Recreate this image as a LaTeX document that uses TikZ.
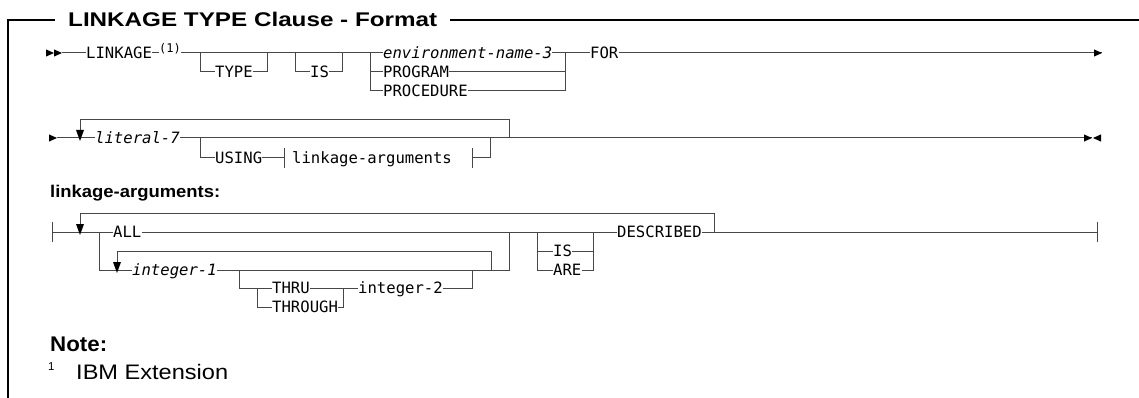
\documentclass[tikz,border=0pt]{standalone}
\usepackage{fontspec}
\usepackage{graphicx}
\newfontfamily\hsans{Liberation Sans}
\newfontfamily\dmono{DejaVu Sans Mono}
% stretch a piece of text horizontally to a given width
\newcommand\wfit[2]{\resizebox{#1}{\height}{#2}}

\tikzset{
  track/.style={draw=black!72, line width=1pt},
  frameline/.style={draw=black, line width=1.3pt},
  kw/.style={font=\dmono\fontsize{15.6}{15.6}\selectfont, anchor=west,
             inner sep=0pt, text height=11.4pt, text depth=0pt},
  var/.style={kw, font=\dmono\itshape\fontsize{15.6}{15.6}\selectfont},
  head/.style={anchor=base west, inner sep=0pt},
  rtri/.pic={\fill[black] (-8,-3.6) -- (0,0) -- (-8,3.6) -- cycle;},
  ltri/.pic={\fill[black] (8,-3.6) -- (0,0) -- (8,3.6) -- cycle;},
  dtri/.pic={\fill[black] (-4,-8) -- (4,-8) -- (0,3) -- cycle;},
  endbar/.pic={\draw[track] (0,-10) -- (0,10);},
}

\begin{document}
\begin{tikzpicture}[x=1pt,y=-1pt]
\useasboundingbox (0,0) rectangle (1139,398);

% ---- frame and title
\node[head, font=\hsans\bfseries\fontsize{19.8}{20}\selectfont] (title) at (68,26.5)
  {\wfit{369pt}{LINKAGE TYPE Clause - Format}};
\draw[frameline] (8,398) -- (8,20) -- (55,20);
\draw[frameline] (450,20) -- (1139,20);

% ---- first line: LINKAGE ... FOR
\coordinate (s1) at (62,53);
\pic at (54,53) {rtri};
\pic at (s1) {rtri};
\node[kw] (linkage) at (86,53) {LINKAGE};
\node[head, font=\dmono\fontsize{12}{12}\selectfont] (fn1) at (159,53) {(1)};
\coordinate (tL) at (200,53);
\coordinate (tR) at (267,53);
\node[kw] (type) at (215,72) {TYPE};
\coordinate (iL) at (295,53);
\coordinate (iR) at (342,53);
\node[kw] (is1) at (310,72) {IS};
\coordinate (cL) at (370,53);
\coordinate (cR) at (565,53);
\node[var] (env) at (383,53) {environment-name-3};
\node[kw] (program) at (383,72) {PROGRAM};
\node[kw] (procedure) at (383,91) {PROCEDURE};
\node[kw] (for) at (590,53) {FOR};
\coordinate (e1) at (1102,53);

\draw[track] (s1) -- (linkage.west);
\draw[track] (linkage.east) -- (fn1.base west);
\draw[track] (fn1.base east) -- (env.west);
\draw[track] (tL) |- (type.west);
\draw[track] (type.east) -| (tR);
\draw[track] (iL) |- (is1.west);
\draw[track] (is1.east) -| (iR);
\draw[track] (cL) |- (program.west);
\draw[track] (cL) |- (procedure.west);
\draw[track] (program.east) -| (cR);
\draw[track] (procedure.east) -| (cR);
\draw[track] (env.east) -- (for.west);
\draw[track] (for.east) -- (e1);
\pic at (e1) {rtri};

% ---- second line: literal-7 USING linkage-arguments
\coordinate (s2) at (57,138);
\pic at (s2) {rtri};
\coordinate (lp2L) at (80,138);
\coordinate (lp2T) at (80,120);
\coordinate (lp2R) at (509,138);
\node[var] (literal) at (95,138) {literal-7};
\coordinate (uL) at (200,138);
\node[kw] (using) at (215,158) {USING};
\coordinate (b1) at (284,158);
\node[kw] (largs) at (292,158) {linkage-arguments};
\coordinate (b2) at (472,158);
\coordinate (uR) at (490,138);
\coordinate (e2) at (1092,138);

\draw[track] (s2) -- (literal.west);
\draw[track] (literal.east) -- (e2);
\draw[track] (lp2R) |- (lp2T) -- (lp2L);
\pic at (lp2L) {dtri};
\draw[track] (uL) |- (using.west);
\draw[track] (using.east) -- (b1);
\pic at (b1) {endbar};
\pic at (b2) {endbar};
\draw[track] (b2) -| (uR);
\pic at (e2) {rtri};
\pic at ([xshift=1pt]e2) {ltri};

% ---- fragment: linkage-arguments
\node[head, font=\hsans\bfseries\fontsize{17}{17}\selectfont] (fraghead) at (50,197.5)
  {\wfit{170pt}{linkage-arguments:}};

\coordinate (b3) at (52,232);
\coordinate (lp3L) at (80,232);
\coordinate (lp3T) at (80,213);
\coordinate (lp3R) at (714,232);
\coordinate (aL) at (99,232);
\coordinate (aR) at (509,232);
\node[kw] (all) at (113,232) {ALL};
\node[var] (int1) at (132,270) {integer-1};
\coordinate (lp4L) at (117,270);
\coordinate (lp4T) at (117,251);
\coordinate (lp4R) at (491,270);
\coordinate (thL) at (239,270);
\coordinate (thJ) at (257,288);
\node[kw] (thru) at (272,288) {THRU};
\node[kw] (through) at (272,307) {THROUGH};
\coordinate (thR) at (343,288);
\node[kw] (int2) at (358,288) {integer-2};
\coordinate (thE) at (472,270);
\coordinate (isL) at (537,232);
\coordinate (isR) at (593,232);
\node[kw] (is2) at (553,251) {IS};
\node[kw] (are) at (553,270) {ARE};
\node[kw] (described) at (617,232) {DESCRIBED};
\coordinate (e3) at (1097,232);

\pic at (b3) {endbar};
\draw[track] (b3) -- (all.west);
\draw[track] (all.east) -- (described.west);
\draw[track] (described.east) -- (e3);
\pic at (e3) {endbar};
\draw[track] (lp3R) |- (lp3T) -- (lp3L);
\pic at (lp3L) {dtri};
\draw[track] (aL) |- (int1.west);
\draw[track] (int1.east) -| (aR);
\draw[track] (lp4R) |- (lp4T) -- (lp4L);
\pic at (lp4L) {dtri};
\draw[track] (thL) |- (thru.west);
\draw[track] (thJ) |- (through.west);
\draw[track] (thru.east) -- (int2.west);
\draw[track] (through.east) -| (thR);
\draw[track] (int2.east) -| (thE);
\draw[track] (isL) |- (is2.west);
\draw[track] (isL) |- (are.west);
\draw[track] (is2.east) -| (isR);
\draw[track] (are.east) -| (isR);

% ---- note
\node[head, font=\hsans\bfseries\fontsize{21.2}{21.2}\selectfont] (notehead) at (50,351)
  {\wfit{57pt}{Note:}};
\node[head, font=\hsans\fontsize{11.5}{11.5}\selectfont] (notenum) at (48,370) {1};
\node[head, font=\hsans\fontsize{21}{21}\selectfont] (notetext) at (76,379.5)
  {\wfit{152pt}{IBM Extension}};
\end{tikzpicture}
\end{document}
